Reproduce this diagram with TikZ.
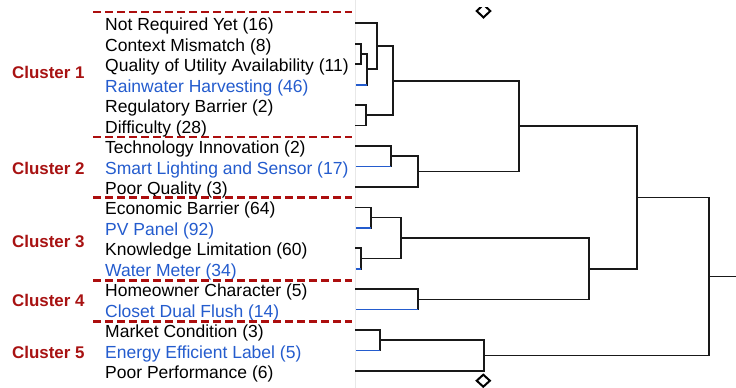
\documentclass[tikz,border=0pt]{standalone}
\usepackage{fontspec}
\setmainfont{Liberation Sans}
\usetikzlibrary{calc}

\definecolor{itemblue}{RGB}{36,92,206}
\definecolor{clusterred}{RGB}{168,18,18}
\definecolor{dashred}{RGB}{172,14,14}
\definecolor{linkgray}{RGB}{25,25,25}

% merge node: name, x position, first child, its style, second child, its style
\newcommand\dmerge[6]{%
  \path let \p1=($(#3)!.5!(#5)$) in coordinate (#1) at (#2pt,\y1);
  \draw[link] (#3 -| #1) -- (#5 -| #1);
  \draw[link,#4] (#3) -- (#3 -| #1);
  \draw[link,#6] (#5) -- (#5 -| #1);
}

\begin{document}
\begin{tikzpicture}[x=1pt,y=-1pt,
  link/.style={draw=linkgray,line width=1.7pt,line cap=rect},
  bl/.style={draw=itemblue,line cap=butt},
  bk/.style={},
  item/.style={anchor=base west,inner sep=0pt,font=\fontsize{17.5pt}{19pt}\selectfont,text=black},
  itemb/.style={item,text=itemblue},
  cluster/.style={anchor=base west,inner sep=0pt,font=\fontsize{16.9pt}{19pt}\selectfont\bfseries,text=clusterred},
  sep/.style={draw=dashred,line width=2.8pt,dash pattern=on 8pt off 4pt},
  cutmark/.style={draw=black,line width=2pt,line join=miter}]

\useasboundingbox[fill=white] (0,0) rectangle (736,388);

% faint edge of the label panel
\draw[black!9,line width=0.6pt] (355,0) -- (355,388);

% leaf anchors of the dendrogram
\foreach \i in {1,...,18}{
  \coordinate (l\i) at (356,{23.3+20.45*(\i-1)});
}

% item labels
\foreach \i/\txt/\sty in {
  1/{Not Required Yet (16)}/item,
  2/{Context Mismatch (8)}/item,
  3/{Quality of Utility Availability (11)}/item,
  4/{Rainwater Harvesting (46)}/itemb,
  5/{Regulatory Barrier (2)}/item,
  6/{Difficulty (28)}/item,
  7/{Technology Innovation (2)}/item,
  8/{Smart Lighting and Sensor (17)}/itemb,
  9/{Poor Quality (3)}/item,
  10/{Economic Barrier (64)}/item,
  11/{PV Panel (92)}/itemb,
  12/{Knowledge Limitation (60)}/item,
  13/{Water Meter (34)}/itemb,
  14/{Homeowner Character (5)}/item,
  15/{Closet Dual Flush (14)}/itemb,
  16/{Market Condition (3)}/item,
  17/{Energy Efficient Label (5)}/itemb,
  18/{Poor Performance (6)}/item}{
  \node[\sty] (t\i) at (105,{23.3+20.45*(\i-1)+7.6}) {\txt};
}

% cluster names
\node[cluster] (c1) at (12,78.3) {Cluster 1};
\node[cluster] (c2) at (12,174.0) {Cluster 2};
\node[cluster] (c3) at (12,247.4) {Cluster 3};
\node[cluster] (c4) at (12,306.4) {Cluster 4};
\node[cluster] (c5) at (12,358.0) {Cluster 5};

% cluster separators
\coordinate (s0a) at (93,12);    \coordinate (s0b) at (352,12);
\coordinate (s1a) at (93,137);   \coordinate (s1b) at (352,137);
\coordinate (s2a) at (93,197.3); \coordinate (s2b) at (352,197.3);
\coordinate (s3a) at (93,280.7); \coordinate (s3b) at (352,280.7);
\coordinate (s4a) at (93,321.7); \coordinate (s4b) at (352,321.7);
\foreach \k in {0,...,4}{\draw[sep] (s\k a) -- (s\k b);}

% dendrogram
\dmerge{ma}{360.7}{l2}{bk}{l3}{bk}
\dmerge{mb}{366.7}{ma}{bk}{l4}{bl}
\dmerge{mc}{376.7}{l1}{bk}{mb}{bk}
\dmerge{md}{366.0}{l5}{bk}{l6}{bk}
\dmerge{me}{393.3}{mc}{bk}{md}{bk}
\dmerge{mf}{391.0}{l7}{bk}{l8}{bl}
\dmerge{mg}{417.7}{mf}{bk}{l9}{bk}
\dmerge{mh}{519.0}{me}{bk}{mg}{bk}
\dmerge{mi}{370.7}{l10}{bk}{l11}{bl}
\dmerge{mj}{360.7}{l12}{bk}{l13}{bl}
\dmerge{mk}{401.0}{mi}{bk}{mj}{bk}
\dmerge{mn}{417.7}{l14}{bk}{l15}{bl}
\dmerge{mo}{589.3}{mk}{bk}{mn}{bk}
\dmerge{mp}{637.3}{mh}{bk}{mo}{bk}
\dmerge{mq}{380.3}{l16}{bk}{l17}{bl}
\dmerge{mr}{484.3}{mq}{bk}{l18}{bk}
\dmerge{ms}{709.3}{mp}{bk}{mr}{bk}
\coordinate (root) at (737,0);
\draw[link] (ms) -- (ms -| root);

% cut markers
\coordinate (dtop) at (483.5,11);
\coordinate (dbot) at (483.3,380.7);
\begin{scope}
  \clip (470,7.2) rectangle (500,30);
  \draw[cutmark] ($(dtop)+(-6.8,0)$) -- ($(dtop)+(0,-6.4)$) -- ($(dtop)+(6.8,0)$) -- ($(dtop)+(0,6.4)$) -- cycle;
\end{scope}
\draw[cutmark] ($(dbot)+(-6.6,0)$) -- ($(dbot)+(0,-6)$) -- ($(dbot)+(6.6,0)$) -- ($(dbot)+(0,6)$) -- cycle;

\end{tikzpicture}
\end{document}
